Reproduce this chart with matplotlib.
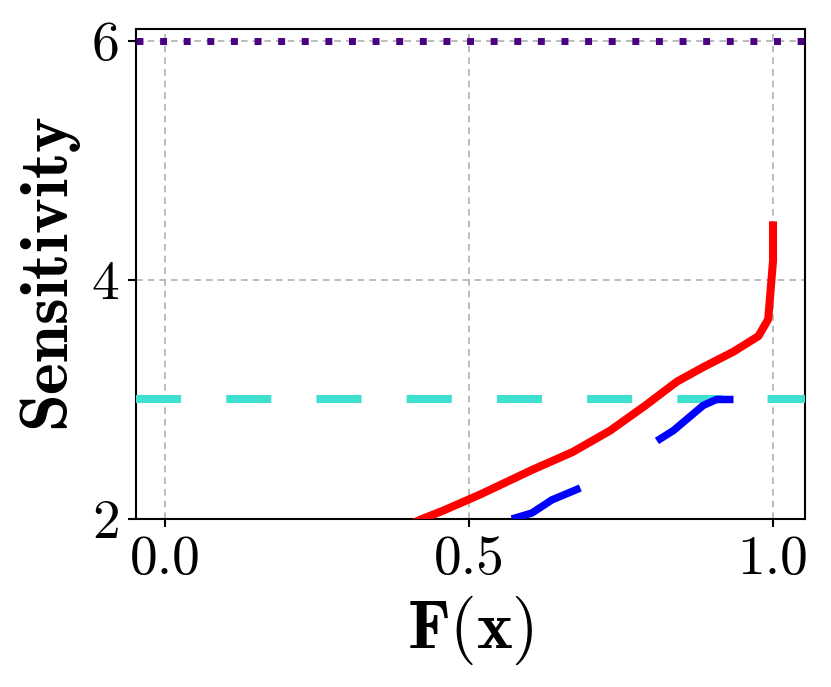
import matplotlib
matplotlib.use("Agg")
import matplotlib.pyplot as plt

plt.rcParams['font.family'] = 'serif'
plt.rcParams['font.serif'] = ['cmr10']
plt.rcParams['mathtext.fontset'] = 'cm'
plt.rcParams['axes.unicode_minus'] = False

# red curve
red_x = [0.40, 0.422, 0.457, 0.52, 0.603, 0.67, 0.732, 0.79, 0.842, 0.885, 0.935, 0.976, 0.992, 1.0, 1.0]
red_y = [1.95, 2.00, 2.07, 2.21, 2.41, 2.56, 2.74, 2.95, 3.15, 3.27, 3.40, 3.53, 3.67, 4.16, 4.49]

# blue dashed curve
blue_x = [0.57, 0.603, 0.636, 0.683, 0.75, 0.811, 0.836, 0.885, 0.907, 0.935]
blue_y = [2.00, 2.05, 2.16, 2.26, 2.45, 2.66, 2.74, 2.95, 3.00, 3.00]

cyan_level = 3.0
purple_level = 6.0

xticks = [0.0, 0.5, 1.0]
yticks = [2, 4, 6]

fig = plt.figure(figsize=(8.31, 6.87), dpi=100)
ax = fig.add_axes([0.164, 0.2445, 0.805, 0.7135])

ax.grid(True, linestyle=(0, (4, 3)), color='#b0b0b0', linewidth=1.2, zorder=0)
ax.axhline(purple_level, color='#4B0082', linewidth=5.0, linestyle=(0, (1, 2.4)), zorder=3)
ax.axhline(cyan_level, color='#40E0D0', linewidth=5.8, linestyle=(0, (5.6, 5.6)), zorder=3)
ax.plot(blue_x, blue_y, color='blue', linewidth=5.4, linestyle=(1.9, (12, 12)), zorder=4)
ax.plot(red_x, red_y, color='red', linewidth=5.8, zorder=5, solid_capstyle='butt')

ax.set_xlim(-0.048, 1.053)
ax.set_ylim(2, 6.1)
ax.set_xticks(xticks)
ax.set_xticklabels([f"{t:.1f}" for t in xticks])
ax.set_yticks(yticks)
ax.set_yticklabels([str(t) for t in yticks])
ax.tick_params(labelsize=40, length=6, width=1.5, direction='out', pad=6)
for s in ax.spines.values():
    s.set_linewidth(1.5)

ax.set_xlabel(r'$\mathbf{F(x)}$', fontsize=49, labelpad=6)
ax.set_ylabel(r'$\mathbf{Sensitivity}$', fontsize=49, labelpad=6)

fig.savefig("out.png", dpi=100)
